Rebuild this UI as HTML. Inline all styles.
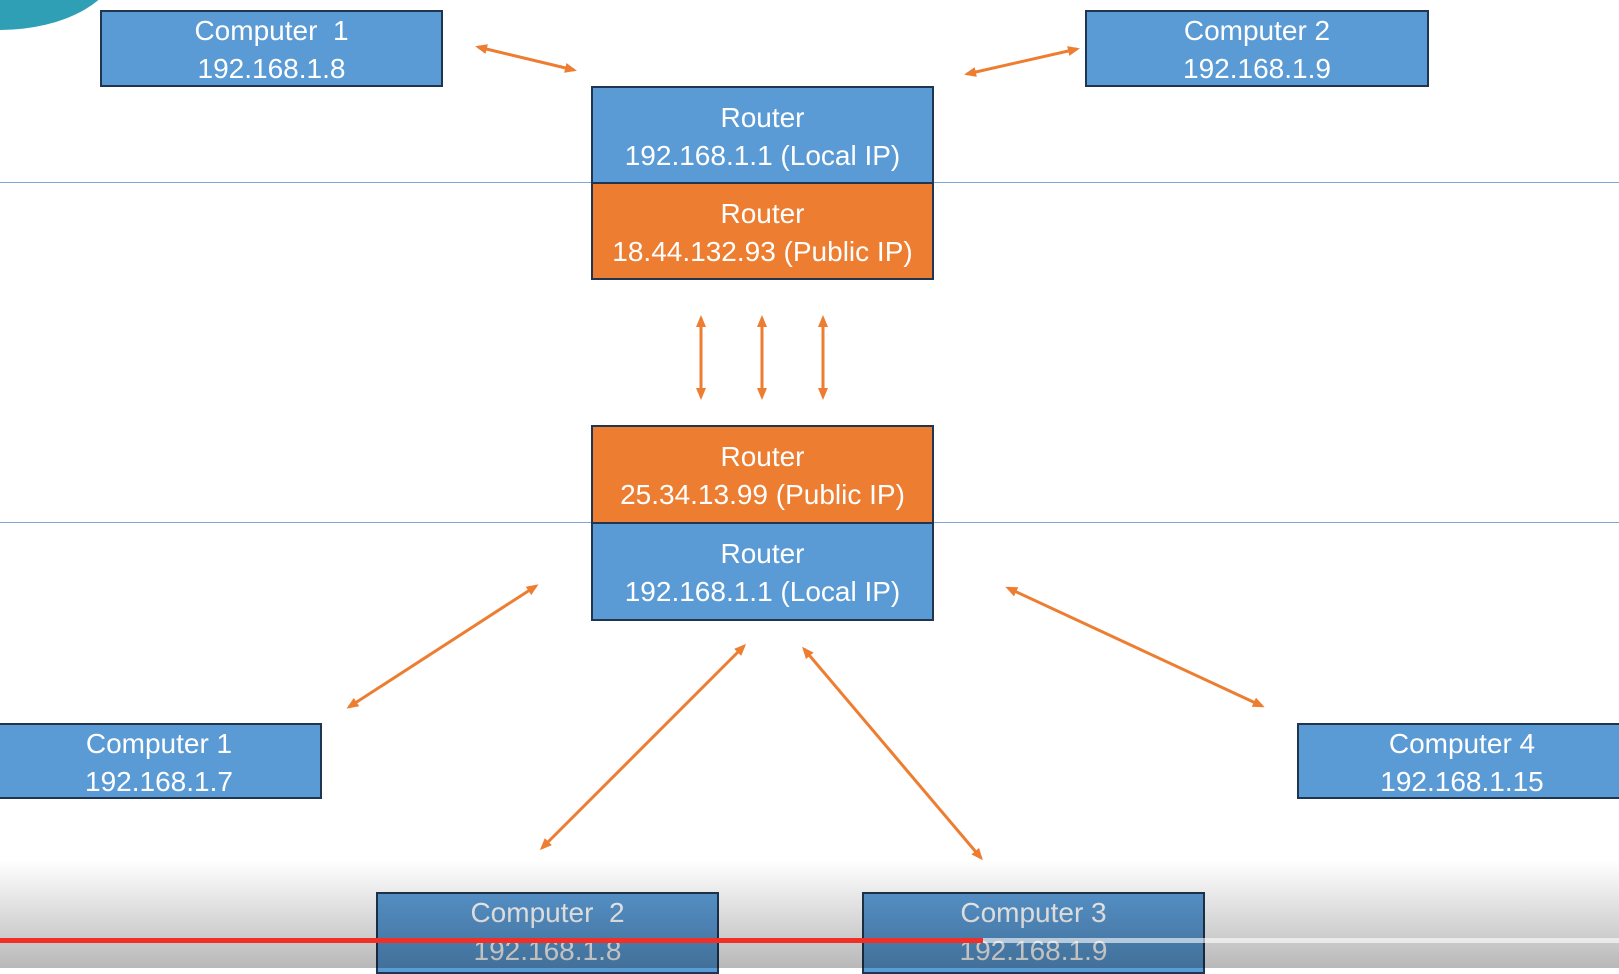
<!DOCTYPE html>
<html><head><meta charset="utf-8"><style>
body{margin:0;width:1619px;height:968px;overflow:hidden;background:#fff;position:relative;font-family:"Liberation Sans",sans-serif}
.b{position:absolute;box-sizing:border-box;border:2px solid #1f3550;color:#fff;text-align:center;font-size:28px;line-height:38px;display:flex;flex-direction:column;justify-content:center;background:#5b9bd5;padding-top:3px}
.o{background:#ed7d31}
.hl{position:absolute;left:0;width:1619px;height:1px;background:#7fa7d3}
</style></head><body>
<div style="position:absolute;left:-120px;top:-110px;width:240px;height:140px;border-radius:50%;background:#2e9fb4"></div>
<div class="hl" style="top:182px"></div>
<div class="hl" style="top:522px"></div>
<div class="b" style="left:100px;top:10px;width:343px;height:77px">Computer&nbsp; 1<br>192.168.1.8</div>
<div class="b" style="left:1085px;top:10px;width:344px;height:77px">Computer 2<br>192.168.1.9</div>
<div class="b" style="left:591px;top:86px;width:343px;height:98px">Router<br>192.168.1.1 (Local IP)</div>
<div class="b o" style="left:591px;top:182px;width:343px;height:98px">Router<br>18.44.132.93 (Public IP)</div>
<div class="b o" style="left:591px;top:425px;width:343px;height:99px">Router<br>25.34.13.99 (Public IP)</div>
<div class="b" style="left:591px;top:522px;width:343px;height:99px">Router<br>192.168.1.1 (Local IP)</div>
<div class="b" style="left:-4px;top:723px;width:326px;height:76px">Computer 1<br>192.168.1.7</div>
<div class="b" style="left:1297px;top:723px;width:330px;height:76px">Computer 4<br>192.168.1.15</div>
<div class="b" style="left:376px;top:892px;width:343px;height:82px;justify-content:flex-start;padding-top:0">Computer&nbsp; 2<br>192.168.1.8</div>
<div class="b" style="left:862px;top:892px;width:343px;height:82px;justify-content:flex-start;padding-top:0">Computer 3<br>192.168.1.9</div>
<svg style="position:absolute;left:0;top:0" width="1619" height="968">
<defs><marker id="a" markerWidth="12" markerHeight="12" refX="9" refY="6" orient="auto-start-reverse" markerUnits="userSpaceOnUse"><path d="M0,1 L12,6 L0,11 z" fill="#ed7d31"/></marker></defs>
<g stroke="#ed7d31" stroke-width="3" marker-start="url(#a)" marker-end="url(#a)">
<line x1="478" y1="47" x2="574" y2="70"/>
<line x1="967" y1="74" x2="1077" y2="49"/>
<line x1="701" y1="318" x2="701" y2="397"/>
<line x1="762" y1="318" x2="762" y2="397"/>
<line x1="823" y1="318" x2="823" y2="397"/>
<line x1="349" y1="707" x2="536" y2="586"/>
<line x1="542" y1="848" x2="744" y2="646"/>
<line x1="804" y1="649" x2="981" y2="858"/>
<line x1="1008" y1="588" x2="1262" y2="706"/>
</g></svg>
<div style="position:absolute;left:0;top:860px;width:1619px;height:108px;background:linear-gradient(rgba(0,0,0,0),rgba(0,0,0,0.28))"></div>
<div style="position:absolute;left:0;top:938px;width:1619px;height:5px;background:rgba(255,255,255,0.6)"></div>
<div style="position:absolute;left:0;top:938px;width:983px;height:5px;background:#f03026"></div>
</body></html>
